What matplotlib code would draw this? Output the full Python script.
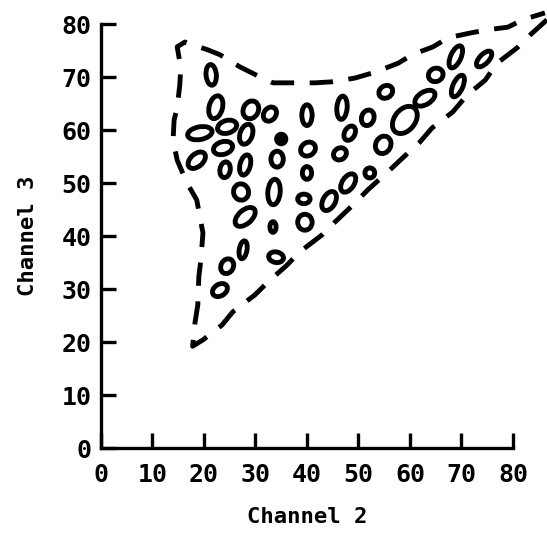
import numpy as np
import matplotlib
matplotlib.use('Agg')
import matplotlib.pyplot as plt
from matplotlib.patches import Ellipse

# cluster ellipses: centre (channel 2, channel 3), width, height, angle
ell_x = [21.4, 22.3, 29.1, 32.8, 19.2, 24.5, 28.2, 23.7, 18.6, 24.1, 28.0,
         40.0, 40.2, 34.2, 40.0, 27.2, 33.6, 39.4, 46.8, 46.4, 44.3, 28.0,
         33.4, 27.6, 24.5, 23.1, 34.0, 39.6, 48.0, 52.2, 51.8, 55.3, 48.3,
         54.8, 59.0, 62.9, 65.0, 68.9, 69.3, 74.4]
ell_y = [70.4, 64.3, 63.8, 63.0, 59.4, 60.6, 59.2, 56.6, 54.3, 52.5, 53.4,
         62.8, 56.4, 54.5, 51.9, 48.3, 48.3, 47.0, 64.2, 55.5, 46.6, 43.6,
         41.7, 37.4, 34.3, 29.8, 36.0, 42.6, 50.0, 51.9, 62.3, 67.2, 59.4,
         57.2, 61.9, 66.0, 70.4, 73.8, 68.3, 73.4]
ell_w = [2.0, 2.6, 2.9, 2.3, 4.8, 3.8, 2.4, 3.8, 3.9, 2.0, 2.0,
         2.0, 3.0, 2.4, 1.8, 2.9, 2.4, 2.4, 2.0, 2.6, 2.4, 4.6,
         1.2, 1.5, 2.4, 3.1, 2.9, 2.8, 2.3, 1.9, 2.4, 2.8, 2.0,
         2.9, 5.8, 4.3, 2.9, 2.0, 1.9, 3.8]
ell_h = [3.9, 4.4, 3.5, 2.9, 2.4, 2.4, 3.9, 2.4, 2.4, 3.0, 3.9,
         3.9, 2.5, 3.0, 2.4, 3.1, 4.8, 1.8, 4.4, 2.2, 3.9, 2.6,
         2.0, 3.4, 2.9, 2.2, 2.0, 3.0, 3.9, 1.9, 3.0, 2.3, 2.9,
         3.4, 4.0, 2.4, 2.5, 4.5, 4.4, 1.8]
ell_a = [5, -15, -30, -40, 10, 15, -20, 15, 40, -10, -15,
         0, 30, 0, 0, 20, -5, 0, -5, 30, -30, 40,
         0, -10, -30, 30, -10, 0, -35, 0, -20, 30, -30,
         -30, 50, 30, 20, -25, -25, 45]

# the one filled cluster
dot_x, dot_y, dot_d = 35.0, 58.3, 2.2

# dashed envelope, from the top right tip down, round the left and back along the top
env_x = [86.6, 83.3, 80.8, 76.9, 74.6, 71.1, 68.3, 64.3, 61.9, 58.1, 55.7,
         51.8, 49.3, 45.4, 42.9, 38.6, 36.1, 32.4, 29.9, 25.6, 23.5, 19.8,
         17.8,
         18.25, 18.8, 19.0, 19.4, 19.8, 19.2, 18.6, 16.7, 14.8, 14.0, 14.2,
         14.8, 15.3, 15.5, 14.8, 16.3, 20.8, 23.1, 27.0, 30.9, 33.4, 36.3,
         41.6, 44.9, 49.3, 53.2, 57.7, 60.4, 64.5, 67.4, 71.7, 75.0, 79.0,
         81.9, 86.2]
env_y = [80.8, 77.9, 75.5, 72.6, 69.4, 66.6, 63.4, 60.4, 57.7, 54.3, 52.1,
         48.7, 46.2, 42.6, 40.2, 37.0, 34.5, 31.3, 28.9, 25.7, 23.2, 20.4,
         19.2,
         23.6, 27.0, 32.3, 35.5, 40.6, 43.6, 46.8, 50.0, 54.3, 58.1, 61.9,
         64.2, 68.5, 71.7, 75.7, 76.6, 75.1, 74.2, 71.9, 70.0, 68.9, 68.9,
         68.9, 69.1, 69.8, 70.9, 72.6, 74.2, 75.7, 77.4, 78.3, 78.9, 79.4,
         80.8, 82.1]

ticks = [0, 10, 20, 30, 40, 50, 60, 70, 80]

fig = plt.figure(figsize=(5.47, 5.37), dpi=100)
ax = fig.add_axes([0.1846, 0.1657, 0.7532, 0.7896])

for x, y, w, h, a in zip(ell_x, ell_y, ell_w, ell_h, ell_a):
    ax.add_patch(Ellipse((x, y), w, h, angle=a, fill=False,
                         edgecolor='black', linewidth=3.5))
ax.add_patch(Ellipse((dot_x, dot_y), dot_d, dot_d, facecolor='black',
                     edgecolor='black', linewidth=2.0))

ax.plot(env_x, env_y, color='black', linewidth=3.5,
        linestyle=(0, (4.8, 3.2)), clip_on=False)

ax.set_xlim(0, 80)
ax.set_ylim(0, 80)
ax.set_xticks(ticks)
ax.set_yticks(ticks)
ax.spines['top'].set_visible(False)
ax.spines['right'].set_visible(False)
ax.spines['left'].set_linewidth(2.4)
ax.spines['bottom'].set_linewidth(2.4)
ax.tick_params(direction='in', length=11, width=2.4, labelsize=18)
ax.tick_params(axis='x', pad=11)
ax.tick_params(axis='y', pad=7)
for lab in ax.get_xticklabels() + ax.get_yticklabels():
    lab.set_family('DejaVu Sans Mono')
    lab.set_fontweight('bold')

ax.set_xlabel('Channel 2', family='DejaVu Sans Mono', fontweight='bold',
              fontsize=16, labelpad=14)
ax.set_ylabel('Channel 3', family='DejaVu Sans Mono', fontweight='bold',
              fontsize=16, labelpad=17)

fig.savefig('out.png', dpi=100)
